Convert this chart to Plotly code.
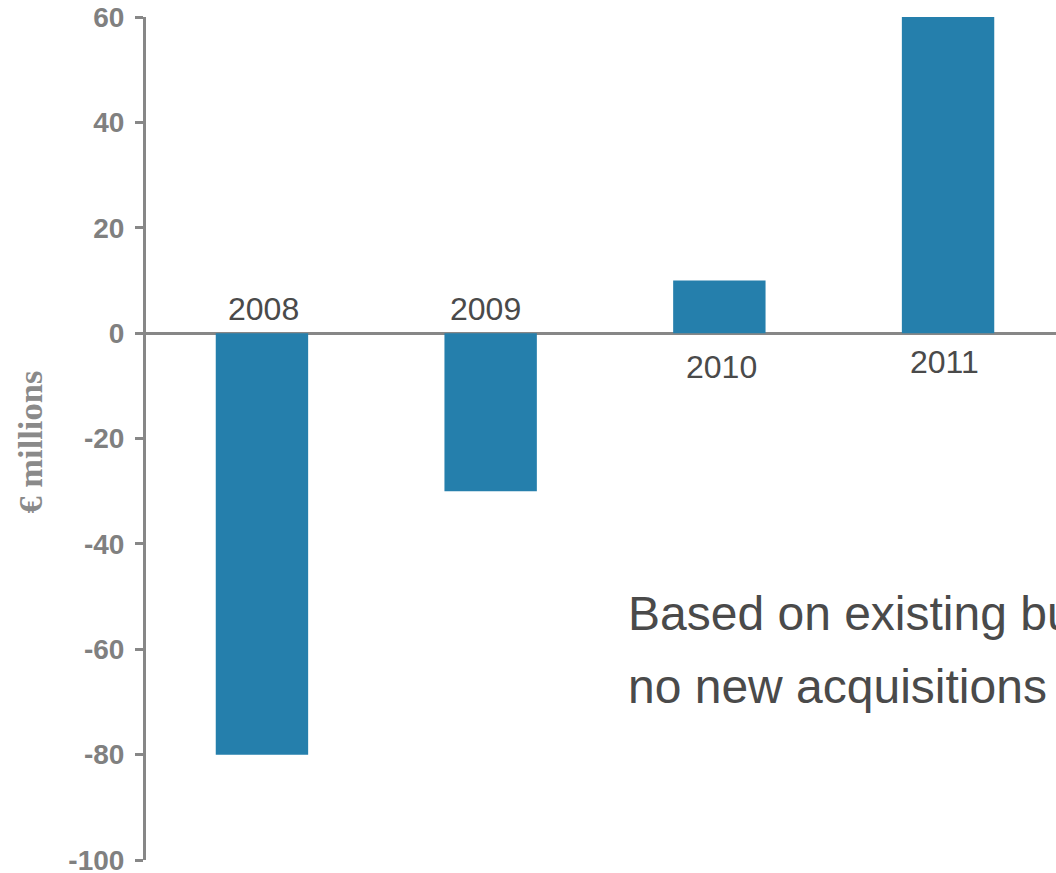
import plotly.graph_objects as go

years = ["2008", "2009", "2010", "2011"]
values = [-80, -30, 10, 60]
y_ticks = [60, 40, 20, 0, -20, -40, -60, -80, -100]
y_title = "€ millions"
note_line1 = "Based on existing business"
note_line2 = "no new acquisitions"

BAR = "#257fac"
AXIS = "#878787"
TXT = "#4a4a4a"

fig = go.Figure()
fig.add_trace(go.Bar(x=list(range(len(years))), y=values,
                     marker=dict(color=BAR, line=dict(width=0)),
                     showlegend=False, hoverinfo="skip"))

# year labels near the zero line
label_shift = {0: (1.5, 24), 1: (-5, 24), 2: (2.5, -34), 3: (-3.5, -29)}
for i, yr in enumerate(years):
    dx, dy = label_shift[i]
    fig.add_annotation(x=i, y=0, xref="x", yref="y", text=yr, showarrow=False,
                       xanchor="center", yanchor="middle", xshift=dx, yshift=dy,
                       font=dict(family="Liberation Sans, Arial", size=32, color=TXT))

fig.add_annotation(x=0.5275, y=0.293, xref="paper", yref="paper", text=note_line1,
                   showarrow=False, xanchor="left", yanchor="middle",
                   font=dict(family="Liberation Sans, Arial", size=48, color=TXT))
fig.add_annotation(x=0.5275, y=0.2064, xref="paper", yref="paper", text=note_line2,
                   showarrow=False, xanchor="left", yanchor="middle",
                   font=dict(family="Liberation Sans, Arial", size=48, color=TXT))

fig.add_annotation(x=-0.1275, y=0.4964, xref="paper", yref="paper", text="<b>" + y_title + "</b>",
                   showarrow=False, textangle=-90, xanchor="center", yanchor="middle",
                   font=dict(family="Liberation Serif, Times New Roman", size=34.5, color="#8a8a8a"))

fig.update_layout(
    width=1056, height=873,
    margin=dict(l=146, r=0, t=17, b=13, autoexpand=False),
    plot_bgcolor="white", paper_bgcolor="white",
    bargap=0.596, hovermode=False, dragmode=False,
    xaxis=dict(range=[-0.507, 3.472], showticklabels=False, showgrid=False,
               zeroline=False, showline=False, ticks="", automargin=False),
    yaxis=dict(range=[-100, 60], tickvals=y_ticks, ticktext=[f"<b>{v}</b>" for v in y_ticks],
               showgrid=False, zeroline=True, zerolinecolor=AXIS, zerolinewidth=3,
               showline=True, linecolor=AXIS, linewidth=3, automargin=False,
               ticks="outside", ticklen=8, tickwidth=3, tickcolor=AXIS,
               ticklabelstandoff=5, ticklabeloverflow="allow",
               tickfont=dict(family="Liberation Sans, Arial", size=28, color="#808080")),
)

fig.write_html("out.html", config={"displayModeBar": False, "staticPlot": True},
               post_script="document.body.style.margin='0';document.body.style.overflow='hidden';")
